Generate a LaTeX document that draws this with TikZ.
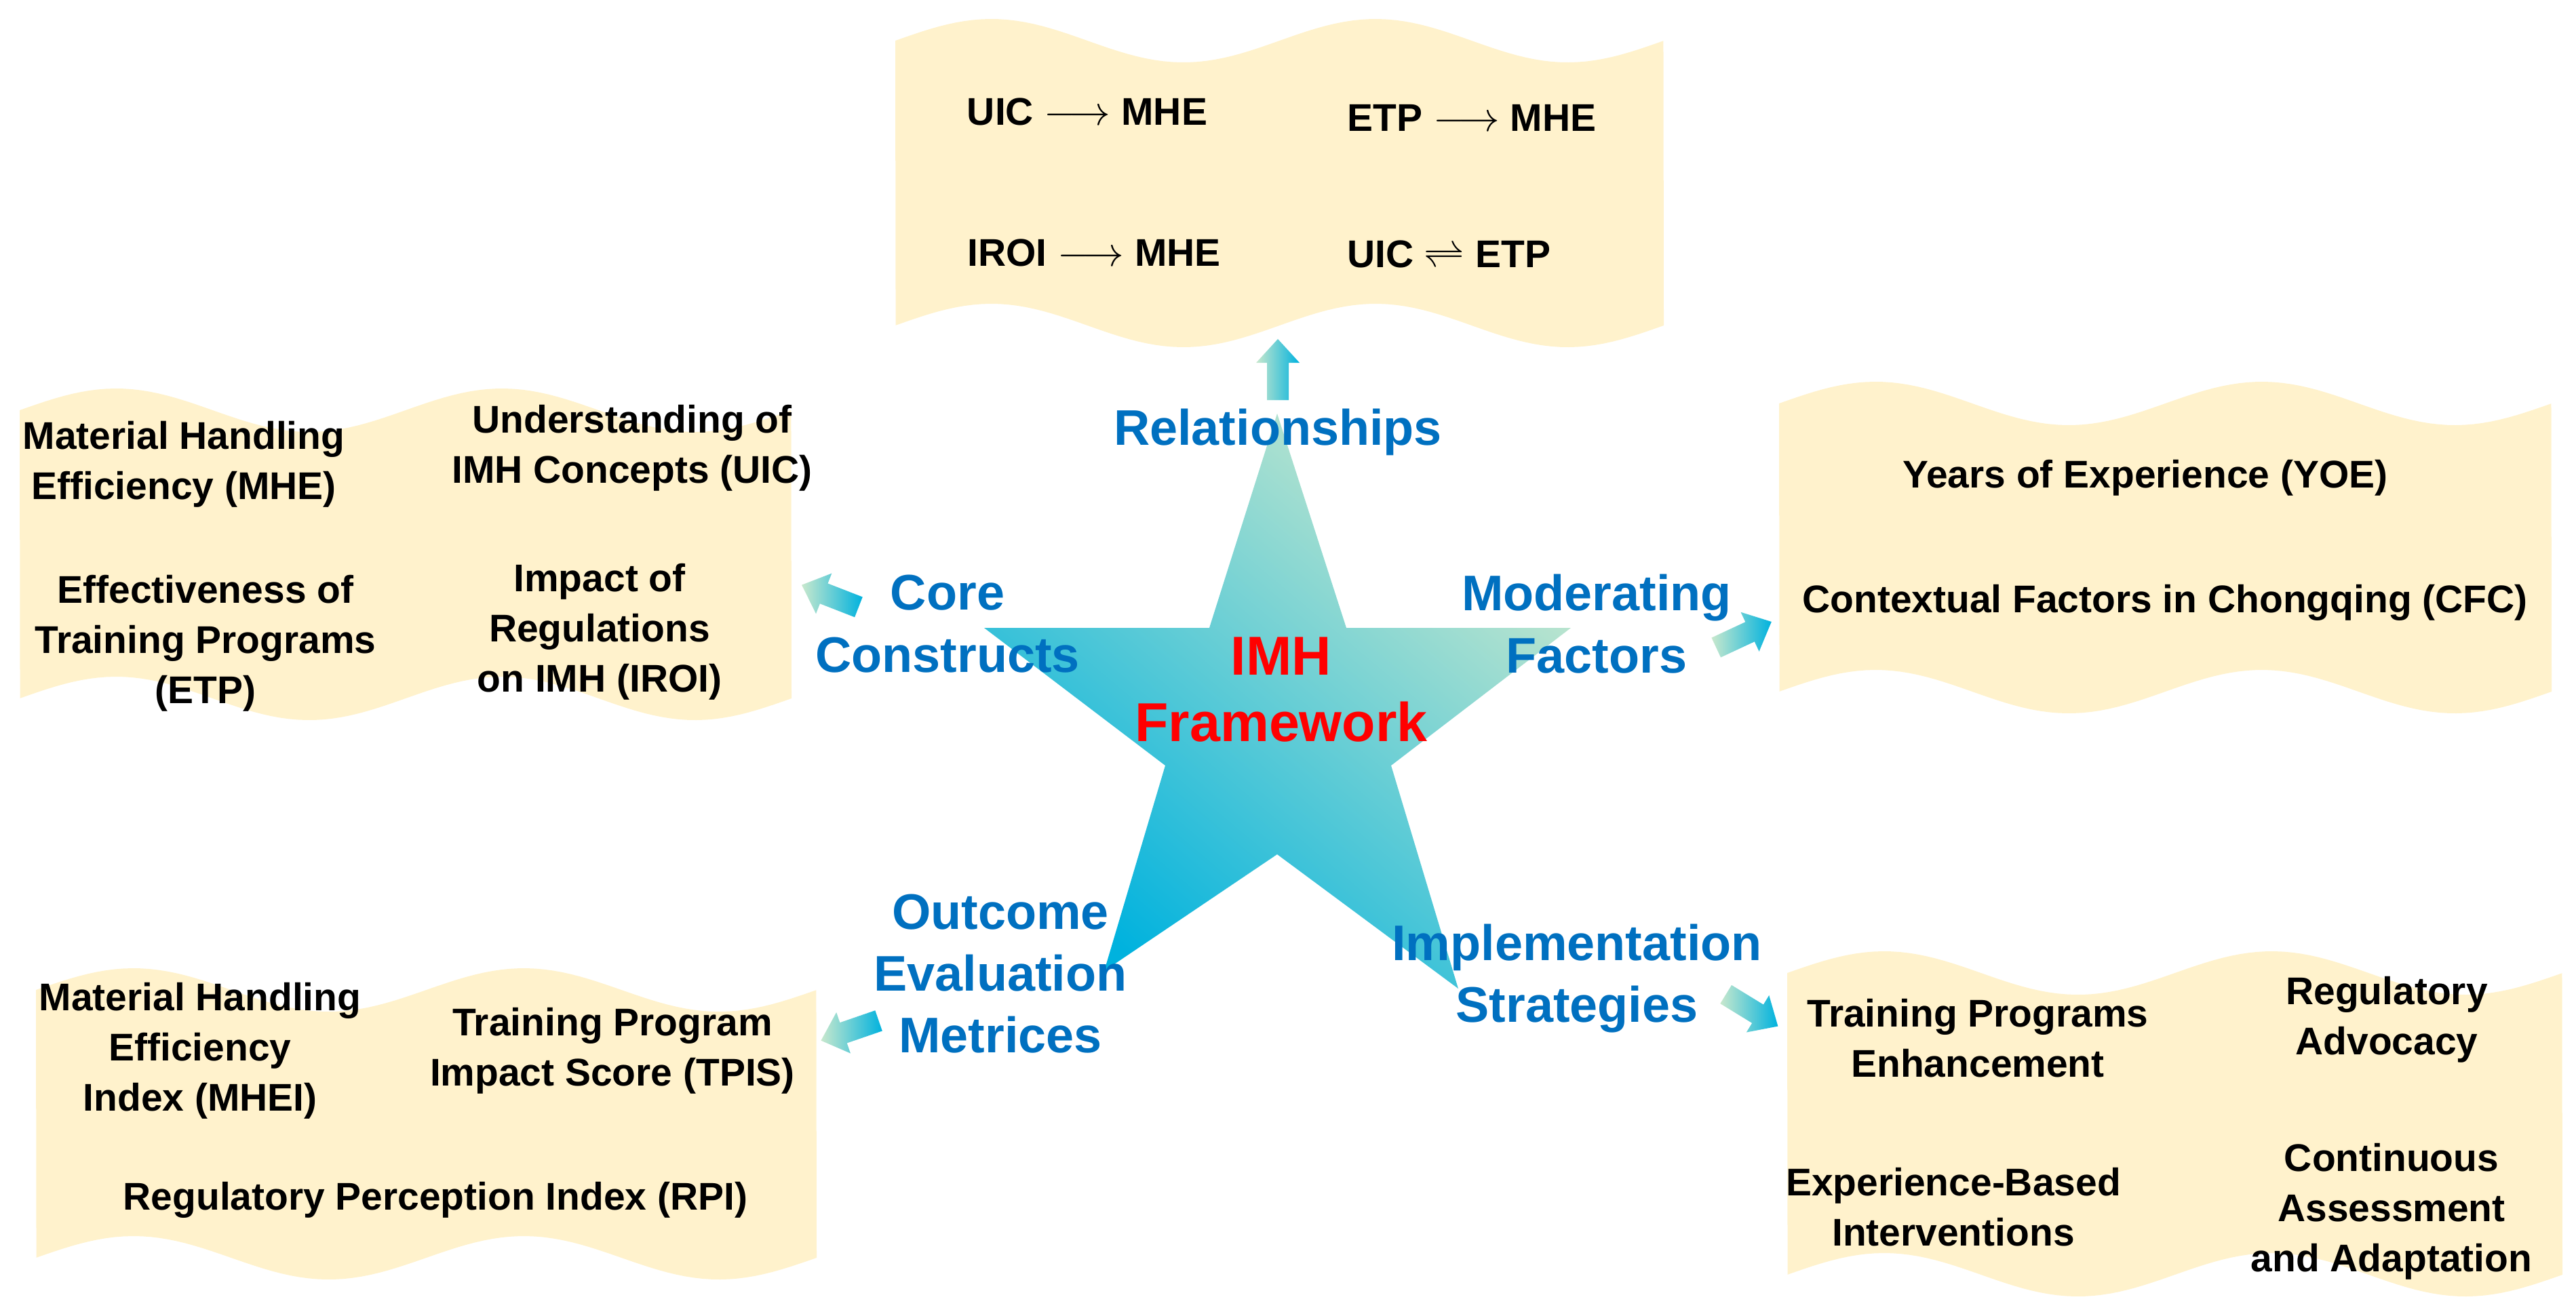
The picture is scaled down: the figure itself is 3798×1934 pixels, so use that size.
\documentclass[tikz,border=0pt]{standalone}
\usepackage{fontspec}
\setmainfont{Liberation Sans}
\begin{document}
\begin{tikzpicture}[x=0.1mm,y=-0.1mm,
  blk/.style={font=\fontsize{16.2}{21}\selectfont\bfseries,align=center,text=black},
  blu/.style={font=\fontsize{21}{26}\selectfont\bfseries,align=center,text=bluet},
  panel/.style={fill=panelc}]
\definecolor{panelc}{RGB}{255,242,204}
\definecolor{bluet}{RGB}{0,112,192}
\definecolor{stard}{RGB}{0,178,222}
\definecolor{starl}{RGB}{200,232,205}
\useasboundingbox (0,0) rectangle (3798,1934);
\newcommand\wpanel[4]{\fill[panel] plot[domain=0:1,samples=90,variable=\t] ({#1+#3*\t},{#2-32*sin(720*\t)}) -- plot[domain=1:0,samples=90,variable=\t] ({#1+#3*\t},{#2+#4-32*sin(720*\t)}) -- cycle;}
\newcommand\fatarrow[3]{\begin{scope}[shift={(#1,#2)},rotate=#3]
 \shade[left color=starl,right color=stard] (-45,-16) -- (10,-16) -- (10,-32) -- (45,0) -- (10,32) -- (10,16) -- (-45,16) -- cycle;
 \end{scope}}
% panels
\wpanel{1320}{60}{1133}{420}
\wpanel{29}{605}{1138}{425}
\wpanel{2623}{595}{1139}{425}
\wpanel{53}{1460}{1151}{395}
\wpanel{2635}{1435}{1143}{445}
% star
\coordinate (s1) at (1883,610); \coordinate (s2) at (1985,926);
\coordinate (s3) at (2316,926); \coordinate (s4) at (2051,1129);
\coordinate (s5) at (2150,1458); \coordinate (s6) at (1883,1260);
\coordinate (s7) at (1628,1432); \coordinate (s8) at (1718,1129);
\coordinate (s9) at (1451,926); \coordinate (s10) at (1783,926);
\shade[bottom color=stard,top color=starl,shading angle=-40] (s1)--(s2)--(s3)--(s4)--(s5)--(s6)--(s7)--(s8)--(s9)--(s10)--cycle;
% arrows
\fatarrow{1884}{545}{90}
\fatarrow{1224}{879}{158.7}
\fatarrow{2571}{936}{25}
\fatarrow{1253}{1520}{199}
\fatarrow{2583}{1490}{-31.5}
% top panel
\node[blk] (r1) at (1603,165) {UIC $\longrightarrow$ MHE};
\node[blk] (r2) at (2170,174) {ETP $\longrightarrow$ MHE};
\node[blk] (r3) at (1613,373) {IROI $\longrightarrow$ MHE};
\node[blk] (r4) at (2136,375) {UIC $\rightleftharpoons$ ETP};
% left panel
\node[blk] (c1) at (271,685) {Material Handling\\Efficiency (MHE)};
\node[blk] (c2) at (932,661) {Understanding of\\IMH Concepts (UIC)};
\node[blk] (c3) at (303,949) {Effectiveness of\\Training Programs\\(ETP)};
\node[blk] (c4) at (884,932) {Impact of\\Regulations\\on IMH (IROI)};
% right panel
\node[blk] (m1) at (3163,705) {Years of Experience (YOE)};
\node[blk] (m2) at (3192,889) {Contextual Factors in Chongqing (CFC)};
% bottom left
\node[blk] (o1) at (295,1550) {Material Handling\\Efficiency\\Index (MHEI)};
\node[blk] (o2) at (903,1550) {Training Program\\Impact Score (TPIS)};
\node[blk] (o3) at (642,1770) {Regulatory Perception Index (RPI)};
% bottom right
\node[blk] (i1) at (2916,1531) {Training Programs\\Enhancement};
\node[blk] (i2) at (3519,1504) {Regulatory\\Advocacy};
\node[blk] (i3) at (2880,1780) {Experience-Based\\Interventions};
\node[blk] (i4) at (3526,1787) {Continuous\\Assessment\\and Adaptation};
% blue labels
\node[blu] (lr) at (1884,637) {Relationships};
\node[blu] (lc) at (1397,920) {Core\\Constructs};
\node[blu] (lm) at (2354,920) {Moderating\\Factors};
\node[blu] (lo) at (1475,1436) {Outcome\\Evaluation\\Metrices};
\node[blu] (li) at (2325,1443) {Implementation\\Strategies};
\node[font=\fontsize{23}{28}\selectfont\bfseries,align=center,text=red] (imh) at (1889,1017) {IMH\\Framework};
\end{tikzpicture}
\end{document}
